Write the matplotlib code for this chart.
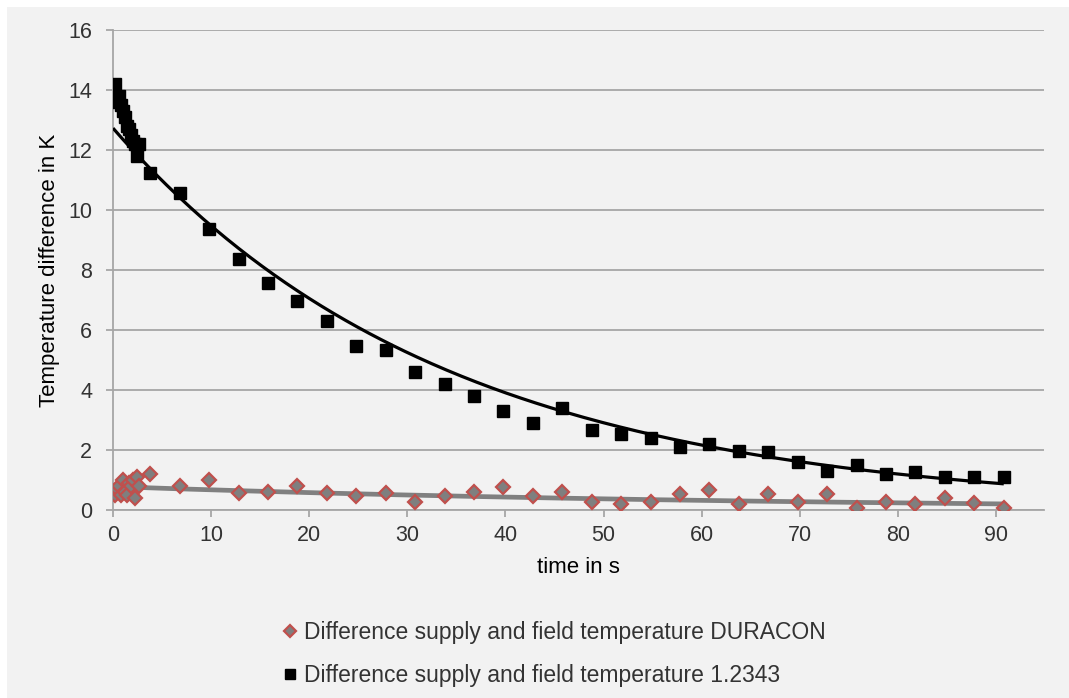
import numpy as np
import matplotlib
matplotlib.use('Agg')
import matplotlib.pyplot as plt
from matplotlib.patches import Rectangle

# Output
PLOT_FILENAME = 'out.png'

# --- Data ---
TIME_S = [0.0, 0.2, 0.4, 0.6, 0.8, 1.0, 1.2, 1.4, 1.6, 1.8, 2.0, 2.2, 2.4, 2.6,
          3.8, 6.8, 9.8, 12.8, 15.8, 18.8, 21.8, 24.8, 27.8, 30.8, 33.8, 36.8,
          39.8, 42.8, 45.8, 48.8, 51.8, 54.8, 57.8, 60.8, 63.8, 66.8, 69.8,
          72.8, 75.8, 78.8, 81.8, 84.8, 87.8, 90.8]

DIFF_DURACON = [0.6, 0.5, 0.7, 0.8, 0.5, 1.0, 0.6, 0.5, 0.9, 0.8, 1.0, 0.4, 1.1, 0.8,
                1.2, 0.8, 1.0, 0.56, 0.61, 0.8, 0.56, 0.47, 0.58, 0.26, 0.47, 0.61,
                0.77, 0.47, 0.61, 0.28, 0.19, 0.28, 0.52, 0.67, 0.19, 0.52, 0.28,
                0.52, 0.08, 0.28, 0.19, 0.41, 0.22, 0.08]

DIFF_12343 = [14.1, 14.2, 13.6, 13.8, 13.5, 13.3, 13.1, 12.8, 12.7, 12.5, 12.3, 12.2, 11.8, 12.2,
              11.24, 10.58, 9.36, 8.37, 7.56, 6.97, 6.3, 5.47, 5.33, 4.59, 4.19, 3.8,
              3.29, 2.9, 3.4, 2.68, 2.52, 2.39, 2.09, 2.2, 1.98, 1.94, 1.61,
              1.3, 1.5, 1.19, 1.28, 1.11, 1.11, 1.09]

LABEL_DURACON = 'Difference supply and field temperature DURACON'
LABEL_12343 = 'Difference supply and field temperature 1.2343'

BG = '#f2f2f2'
GRID = '#a6a6a6'
TEXT = '#333333'


def exp_trend(t, y):
    """Exponential trendline (least squares on ln y), like Excel does it."""
    t = np.asarray(t)
    y = np.asarray(y)
    b, ln_a = np.polyfit(t, np.log(y), 1)
    tt = np.linspace(t.min(), t.max(), 300)
    return tt, np.exp(ln_a) * np.exp(b * tt)


def plot_temperature_difference():
    plt.rcParams['font.family'] = ['Liberation Sans', 'DejaVu Sans']

    fig = plt.figure(figsize=(10.69, 6.98), dpi=100, facecolor='white')
    # grey chart area with a thin white margin at top and left
    fig.patches.append(Rectangle((7 / 1069, 0), 1, 1 - 7 / 698,
                                 transform=fig.transFigure, facecolor=BG,
                                 edgecolor='none', zorder=-10))

    ax = fig.add_axes([113 / 1069, 1 - 510 / 698, (1044 - 113) / 1069, 480 / 698])
    ax.set_facecolor(BG)

    # trendlines
    tt, yy = exp_trend(TIME_S, DIFF_DURACON)
    ax.plot(tt, yy, color='#808080', linewidth=3.4, zorder=3, solid_capstyle='butt')
    tt, yy = exp_trend(TIME_S, DIFF_12343)
    ax.plot(tt, yy, color='black', linewidth=2.3, zorder=4, solid_capstyle='butt')

    # measured points
    ax.plot(TIME_S, DIFF_DURACON, linestyle='none', marker='D', markersize=6.8,
            markerfacecolor='#7f7f7f', markeredgecolor='#c0504d', markeredgewidth=1.6,
            label=LABEL_DURACON, zorder=5)
    ax.plot(TIME_S, DIFF_12343, linestyle='none', marker='s', markersize=8.3,
            color='black', label=LABEL_12343, zorder=6)

    # axes formatting
    ax.set_xlim(0, 94.9)
    ax.set_ylim(0, 16)
    ax.set_xticks(range(0, 100, 10))
    ax.set_yticks(range(0, 18, 2))
    ax.grid(axis='y', color=GRID, linewidth=1.3)
    ax.set_axisbelow(True)
    for side in ['top', 'right']:
        ax.spines[side].set_visible(False)
    ax.spines['left'].set_color(GRID)
    ax.spines['left'].set_linewidth(1.3)
    ax.spines['bottom'].set_color(GRID)
    ax.spines['bottom'].set_linewidth(1.3)
    ax.tick_params(axis='both', colors=GRID, width=1.3, length=5,
                   labelcolor=TEXT, labelsize=15.5)
    ax.tick_params(axis='x', pad=6)
    ax.tick_params(axis='y', pad=10)

    ax.set_xlabel('time in s', fontsize=16, color='black', labelpad=8)
    ax.set_ylabel('Temperature difference in K', fontsize=16, color='black', labelpad=6)

    handles, labels = ax.get_legend_handles_labels()
    fig.legend(handles, labels, loc='center', bbox_to_anchor=(555 / 1069, 1 - 654 / 698),
               frameon=False, fontsize=16.5, handlelength=0.5, handletextpad=0.35,
               labelspacing=0.85, labelcolor=TEXT, markerscale=0.85)

    fig.savefig(PLOT_FILENAME, dpi=100, facecolor=fig.get_facecolor())
    print(f"Saved: {PLOT_FILENAME}")


if __name__ == '__main__':
    plot_temperature_difference()
